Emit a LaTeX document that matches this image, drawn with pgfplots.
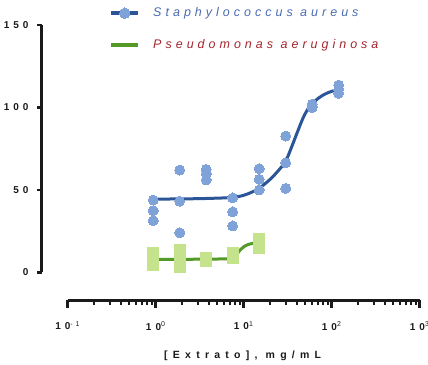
\documentclass[border=0pt]{standalone}
\usepackage{fontspec}
\setmainfont{Liberation Sans}
\newfontfamily\tickfont{Liberation Sans}[LetterSpace=40]
\newfontfamily\labfont{Liberation Sans}[LetterSpace=50]
\newfontfamily\legfont{Liberation Sans}[LetterSpace=32]
\usepackage{pgfplots}
\pgfplotsset{compat=1.18}
\definecolor{staphline}{HTML}{2B5597}
\definecolor{staphmark}{HTML}{7FA2D9}
\definecolor{pseudoline}{HTML}{559A27}
\definecolor{pseudomark}{HTML}{C5E28D}
\definecolor{staphtext}{HTML}{4A6BB0}
\definecolor{pseudotext}{HTML}{A3262E}
\definecolor{axcol}{HTML}{1A1A1A}
\begin{document}
\begin{tikzpicture}
\path[use as bounding box] (0,0) rectangle (428pt,364pt);
% x axis (offset, log)
\begin{axis}[
  scale only axis, at={(67.7pt,64pt)}, anchor=south west,
  width=352pt, height=10pt,
  xmode=log, xmin=0.1, xmax=1000, ymin=0, ymax=1,
  axis x line=bottom, axis y line=none,
  axis line style={-, line width=3pt, color=axcol},
  xtick={0.1,1,10,100,1000},
  xticklabels={{10\textsuperscript{\mdseries -1}},{10\textsuperscript{\mdseries 0}},{10\textsuperscript{\mdseries 1}},{10\textsuperscript{\mdseries 2}},{10\textsuperscript{\mdseries 3}}},
  minor xtick={0.2,0.3,0.4,0.5,0.6,0.7,0.8,0.9,2,3,4,5,6,7,8,9,20,30,40,50,60,70,80,90,200,300,400,500,600,700,800,900},
  tick align=outside,
  major tick length=8pt, minor tick length=4.5pt,
  major tick style={line width=2.5pt, color=axcol},
  minor tick style={line width=2pt, color=axcol},
  xticklabel style={font=\tickfont\bfseries\fontsize{10}{12}\selectfont, text=axcol, yshift=-10pt},
  xlabel={{[Extrato], mg/mL}},
  xlabel style={font=\labfont\bfseries\fontsize{10.5}{12}\selectfont, text=axcol, at={(axis description cs:0.5,0)}, anchor=center, yshift=-56pt, xshift=-1pt},
]
\end{axis}
% data axis with y axis
\begin{axis}[
  scale only axis, at={(42pt,91.5pt)}, anchor=south west,
  width=377.7pt, height=247.5pt,
  xmode=log, xmin=0.05105, xmax=1000, ymin=0, ymax=150,
  axis y line=left, axis x line=none, clip=false,
  axis line style={-, line width=3pt, color=axcol},
  xtick=\empty,
  ytick={0,50,100,150},
  tick align=outside, major tick length=5pt,
  major tick style={line width=2.5pt, color=axcol},
  /pgf/number format/assume math mode=true,
  yticklabel style={font=\tickfont\bfseries\fontsize{10}{12}\selectfont, text=axcol, xshift=-5pt},
  legend image code/.code={\draw[mark repeat=2,mark phase=2,#1] plot coordinates {(0pt,0pt) (13.5pt,0pt) (27pt,0pt)};},
  legend style={at={(axis description cs:0.1775,1.0728)}, anchor=north west, draw=none, fill=none, inner sep=0pt, column sep=13pt, row sep=20pt,
    nodes={inner sep=0pt, text height=9pt, text depth=3pt},
    font=\legfont\itshape\fontsize{12.5}{14}\selectfont},
  legend cell align=left,
]
\addlegendimage{staphline, line width=4pt, mark=*, mark size=5.2pt, mark options={fill=staphmark, draw=staphmark, line width=0pt}}
\addlegendentry{\textcolor{staphtext}{Staphylococcus aureus}}
\addlegendimage{pseudoline, line width=4pt}
\addlegendentry{\textcolor{pseudotext}{Pseudomonas aeruginosa}}
% Pseudomonas fit
\addplot[pseudoline, line width=3pt, smooth, forget plot] coordinates {
 (0.9375,8) (1.875,8) (3.75,8.1) (7.5,8.5) (8.2,10.5) (9,13.3) (10.3,16) (12,17.4) (15,18.1)};
\addplot[only marks, mark=square*, mark size=5.5pt, mark options={fill=pseudomark, draw=pseudomark, line width=0pt}, forget plot] coordinates {
 (0.9375,11.9) (0.9375,8) (0.9375,4.8)
 (1.875,13.9) (1.875,7.5) (1.875,3.2)
 (3.75,8.7) (3.75,7.5) (3.75,6.8)
 (7.5,12.1) (7.5,10) (7.5,8.5)
 (15,20) (15,17) (15,15)};
% Staphylococcus fit
\addplot[staphline, line width=3pt, smooth, forget plot] coordinates {
 (0.9375,44.5) (2,44.6) (4,44.9) (7.5,45.5) (10,46.8) (12.5,48.8) (15,51) (20,56.5) (25,62) (30,67.5) (35,76) (40,84) (47.6,94) (56,100.5) (70,105.5) (85,108.3) (100,109.8) (120,111)};
\addplot[only marks, mark=*, mark size=5pt, mark options={fill=staphmark, draw=staphmark, line width=0pt}, forget plot] coordinates {
 (0.9375,43.9) (0.9375,37.5) (0.9375,31.4)
 (1.875,62.1) (1.875,43.2) (1.875,24.1)
 (3.75,62.5) (3.75,59.7) (3.75,56.1)
 (7.5,45.2) (7.5,36.7) (7.5,28.2)
 (15,62.9) (15,56.5) (15,50)
 (30,82.7) (30,66.5) (30,51)
 (60,102) (60,100.5) (60,100)
 (120,113.6) (120,111) (120,108.6)};
\end{axis}
\end{tikzpicture}
\end{document}
